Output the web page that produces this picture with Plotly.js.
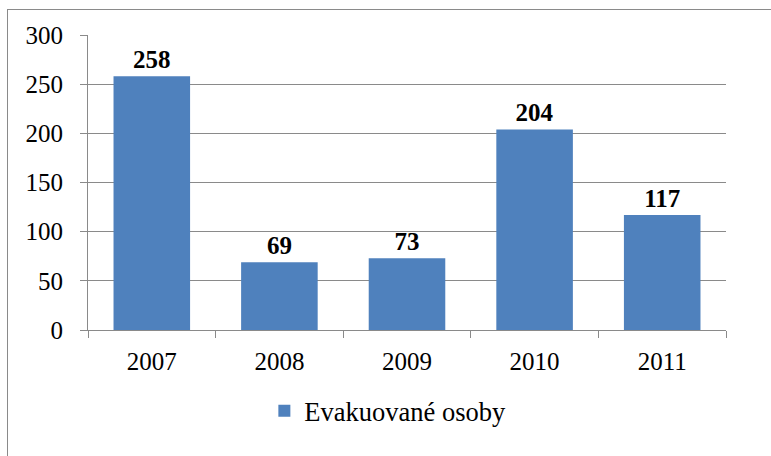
<!DOCTYPE html>
<html>
<head>
<meta charset="utf-8">
<script src="https://cdn.plot.ly/plotly-3.0.1.min.js"></script>
<style>
  html, body { margin: 0; padding: 0; background: #fff; overflow: hidden; }
  #wrap { position: relative; width: 771px; height: 456px; }
  #frame { position: absolute; left: 7px; top: 9px; width: 800px; height: 500px; border: 1px solid #8a8a8a; box-sizing: border-box; }
  #chart { position: absolute; left: 0; top: 0; width: 771px; height: 456px; }
</style>
</head>
<body>
<div id="wrap">
  <div id="frame"></div>
  <div id="chart"></div>
</div>
<script>
const years = ['2007', '2008', '2009', '2010', '2011'];
const evacuated = [258, 69, 73, 204, 117];
const seriesName = 'Evakuované osoby';
const yTicks = [0, 50, 100, 150, 200, 250, 300];

const FONT = 'Liberation Serif';

const trace = {
  type: 'bar',
  x: years,
  y: evacuated,
  name: seriesName,
  marker: { color: '#4F81BD' },
  width: 0.6,
  text: evacuated.map(String),
  textposition: 'outside',
  textfont: { family: FONT, size: 25, color: '#000', weight: 'bold' },
  cliponaxis: false,
  showlegend: true,
  hoverinfo: 'none'
};

const layout = {
  width: 771,
  height: 456,
  margin: { l: 88, r: 45, t: 35, b: 126 },
  paper_bgcolor: 'rgba(0,0,0,0)',
  plot_bgcolor: 'rgba(0,0,0,0)',
  font: { family: FONT, size: 25, color: '#000' },
  showlegend: true,
  legend: {
    orientation: 'h',
    x: 0.47, xanchor: 'center',
    y: -0.275, yanchor: 'middle',
    font: { family: FONT, size: 26.5, color: '#000' },
    itemclick: false
  },
  xaxis: {
    type: 'category',
    showline: true,
    linecolor: '#8a8a8a',
    linewidth: 1,
    ticks: 'outside',
    tickson: 'boundaries',
    ticklen: 7,
    tickcolor: '#8a8a8a',
    ticklabelstandoff: 9,
    tickfont: { family: FONT, size: 25, color: '#000' },
    showgrid: false,
    zeroline: false
  },
  yaxis: {
    range: [0, 300],
    tickvals: yTicks,
    ticktext: yTicks.map(String),
    showline: true,
    linecolor: '#8a8a8a',
    linewidth: 1,
    ticks: 'outside',
    ticklen: 7,
    tickcolor: '#8a8a8a',
    ticklabelstandoff: 12,
    showgrid: true,
    gridcolor: '#8a8a8a',
    gridwidth: 1,
    zeroline: false,
    tickfont: { family: FONT, size: 25, color: '#000' }
  },
  bargap: 0.4
};

Plotly.newPlot('chart', [trace], layout, { displayModeBar: false, staticPlot: true });
</script>
</body>
</html>
